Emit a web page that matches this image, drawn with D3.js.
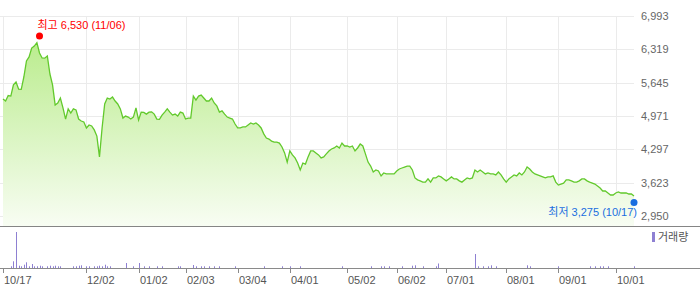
<!DOCTYPE html>
<html>
<head>
<meta charset="utf-8">
<script src="https://cdn.jsdelivr.net/npm/d3@7/dist/d3.min.js"></script>
<style>
body { margin: 0; background: #fff; }
text { font-family: "Liberation Sans", "Noto Sans CJK KR", sans-serif; font-size: 11px; }
</style>
</head>
<body>
<div id="chart"></div>
<script>
// daily closes, 2024-10-17 .. 2025-10-17 (trading days)
var prices = [
  5315, 5275, 5385, 5375, 5600, 5660, 5515, 5510, 5760, 6085,
  6165, 6345, 6385, 6455, 6245, 6145, 6140, 6185, 5820, 5600,
  5195, 5235, 5335, 5135, 4910, 5115, 5030, 5115, 5095, 4910,
  4870, 4850, 4730, 4790, 4770, 4690, 4565, 4145, 4730, 5215,
  5335, 5315, 5355, 5275, 5215, 5115, 4930, 4970, 4950, 4910,
  4950, 5135, 4890, 5050, 5045, 5010, 5050, 5055, 5010, 4910,
  4905, 4990, 5050, 5115, 5050, 4990, 5010, 4970, 5050, 5030,
  4910, 4930, 4930, 5375, 5295, 5375, 5395, 5335, 5275, 5275,
  5335, 5235, 5175, 5050, 5075, 5010, 4950, 4930, 4910, 4810,
  4730, 4730, 4750, 4750, 4790, 4830, 4810, 4830, 4790, 4730,
  4610, 4525, 4505, 4465, 4445, 4445, 4425, 4345, 4225, 4040,
  4265, 4185, 4125, 4020, 3880, 4020, 4000, 4145, 4265, 4265,
  4225, 4185, 4125, 4145, 4205, 4265, 4305, 4325, 4365, 4325,
  4425, 4365, 4365, 4345, 4365, 4265, 4325, 4405, 4365, 4205,
  4040, 3960, 3840, 3880, 3860, 3760, 3820, 3800, 3800, 3800,
  3800, 3860, 3900, 3920, 3940, 3960, 3960, 3880, 3720, 3680,
  3660, 3635, 3635, 3700, 3635, 3720, 3720, 3760, 3740, 3700,
  3660, 3700, 3740, 3700, 3700, 3660, 3635, 3680, 3720, 3700,
  3720, 3880, 3840, 3880, 3840, 3800, 3820, 3800, 3800, 3780,
  3840, 3780, 3700, 3635, 3700, 3740, 3780, 3760, 3820, 3780,
  3840, 3940, 3900, 3840, 3800, 3780, 3760, 3740, 3720, 3740,
  3740, 3760, 3635, 3575, 3595, 3615, 3680, 3680, 3660, 3635,
  3635, 3660, 3700, 3700, 3660, 3635, 3615, 3595, 3555, 3515,
  3455, 3455, 3415, 3375, 3375, 3415, 3435, 3415, 3415, 3415,
  3395, 3395, 3355
];

// volume (thousand shares), only days with a visible bar
var volIdx = [3, 4, 5, 6, 7, 8, 9, 10, 11, 12, 13, 14, 15, 17, 18, 19, 20, 21, 22,
  27, 28, 29, 30, 32, 33, 35, 36, 37, 38, 39, 40, 41, 47, 50, 52, 54, 56, 59, 61,
  67, 68, 73, 74, 76, 77, 79, 81, 83, 89, 100, 107, 110, 114, 130, 141, 145, 146,
  148, 153, 157, 158, 161, 166, 167, 181, 182, 184, 186, 187, 189, 201, 202, 213,
  225, 227, 229, 230, 232, 242];
var volVal = [17, 67, 360, 23, 17, 33, 57, 17, 40, 17, 17, 23, 17, 17, 23, 17, 23, 17, 17,
  17, 17, 23, 27, 17, 17, 17, 17, 23, 17, 33, 17, 17, 50, 17, 50, 17, 17, 17, 17,
  17, 17, 30, 17, 17, 17, 17, 17, 17, 17, 17, 17, 17, 17, 17, 17, 17, 17,
  17, 17, 23, 27, 17, 17, 45, 140, 17, 17, 17, 27, 17, 27, 17, 17,
  17, 17, 17, 17, 17, 17];

var yTicks = [2950, 3623, 4297, 4971, 5645, 6319, 6993];
var tickIdx = [0, 32, 52, 70, 90, 110, 132, 151, 170, 193, 213, 235];
var tickLabels = ["10/17", "12/02", "01/02", "02/03", "03/04", "04/01", "05/02",
  "06/02", "07/01", "08/01", "09/01", "10/01"];

var highIdx = 14, highVal = 6530, highDate = "11/06";
var lowIdx = 242, lowVal = 3275, lowDate = "10/17";

var width = 700, height = 289;
var plotRight = 634;

var svg = d3.select("#chart").append("svg")
    .attr("width", width)
    .attr("height", height);

var x = d3.scaleLinear().domain([0, prices.length - 1]).range([3, 634]);
var y = d3.scaleLinear().domain([2950, 6993]).range([216, 16]);
var yv = d3.scaleLinear().domain([0, 360]).range([268, 232]);

var grad = svg.append("defs").append("linearGradient")
    .attr("id", "fill")
    .attr("gradientUnits", "userSpaceOnUse")
    .attr("x1", 0).attr("x2", 0).attr("y1", 16).attr("y2", 226);
grad.append("stop").attr("offset", "0%").attr("stop-color", "#b2ea80");
grad.append("stop").attr("offset", "100%").attr("stop-color", "#f8fdf3");

// grid
svg.append("g").selectAll("line")
    .data(yTicks)
  .enter().append("line")
    .attr("x1", 0).attr("x2", plotRight)
    .attr("y1", function(d) { return Math.round(y(d)) + 0.5; })
    .attr("y2", function(d) { return Math.round(y(d)) + 0.5; })
    .attr("stroke", "#ebebeb");

svg.append("g").selectAll("line")
    .data(tickIdx)
  .enter().append("line")
    .attr("x1", function(d) { return Math.round(x(d)) + 0.5; })
    .attr("x2", function(d) { return Math.round(x(d)) + 0.5; })
    .attr("y1", 16).attr("y2", 226)
    .attr("stroke", "#ebebeb");

// price area + line
var area = d3.area()
    .x(function(d, i) { return x(i); })
    .y0(226)
    .y1(function(d) { return y(d); });

var line = d3.line()
    .x(function(d, i) { return x(i); })
    .y(function(d) { return y(d); });

svg.append("path").datum(prices)
    .attr("d", area)
    .attr("fill", "url(#fill)");

svg.append("path").datum(prices)
    .attr("d", line)
    .attr("fill", "none")
    .attr("stroke", "#62c92c")
    .attr("stroke-width", 1.3);

// y labels
svg.append("g").selectAll("text")
    .data(yTicks)
  .enter().append("text")
    .attr("x", 641)
    .attr("y", function(d) { return y(d) + 4; })
    .attr("fill", "#666")
    .text(function(d) { return d3.format(",")(d); });

// separators
svg.append("line").attr("x1", 0).attr("x2", width)
    .attr("y1", 226.5).attr("y2", 226.5).attr("stroke", "#858585");
svg.append("line").attr("x1", 0).attr("x2", width)
    .attr("y1", 268.5).attr("y2", 268.5).attr("stroke", "#8a8a8a");

// volume bars
svg.append("g").selectAll("rect")
    .data(volIdx)
  .enter().append("rect")
    .attr("x", function(d) { return Math.round(x(d)); })
    .attr("width", 1)
    .attr("y", function(d, i) { return yv(volVal[i]); })
    .attr("height", function(d, i) { return 268 - yv(volVal[i]); })
    .attr("fill", "#8e80d2");

// volume legend
svg.append("rect").attr("x", 652).attr("y", 232).attr("width", 3).attr("height", 10)
    .attr("fill", "#8e80d2");
svg.append("text").attr("x", 658).attr("y", 241).attr("fill", "#555").text("거래량");

// x ticks
svg.append("g").selectAll("line")
    .data(tickIdx)
  .enter().append("line")
    .attr("x1", function(d) { return Math.round(x(d)) + 0.5; })
    .attr("x2", function(d) { return Math.round(x(d)) + 0.5; })
    .attr("y1", 268).attr("y2", 273)
    .attr("stroke", "#8a8a8a");

svg.append("g").selectAll("text")
    .data(tickIdx)
  .enter().append("text")
    .attr("x", function(d) { return Math.round(x(d)) + 1; })
    .attr("y", 284)
    .attr("fill", "#555")
    .text(function(d, i) { return tickLabels[i]; });

// high / low markers
svg.append("circle")
    .attr("cx", x(highIdx)).attr("cy", y(highVal) - 3)
    .attr("r", 3.5).attr("fill", "#f00");
svg.append("text")
    .attr("x", x(highIdx) - 2).attr("y", y(highVal) - 10)
    .attr("fill", "#f00")
    .text("최고 " + d3.format(",")(highVal) + " (" + highDate + ")");

svg.append("circle")
    .attr("cx", x(lowIdx)).attr("cy", y(lowVal) + 2.5)
    .attr("r", 3.5).attr("fill", "#1a6ee0");
svg.append("text")
    .attr("x", x(lowIdx) + 3).attr("y", y(lowVal) + 16)
    .attr("text-anchor", "end")
    .attr("fill", "#1a6ee0")
    .text("최저 " + d3.format(",")(lowVal) + " (" + lowDate + ")");
</script>
</body>
</html>
